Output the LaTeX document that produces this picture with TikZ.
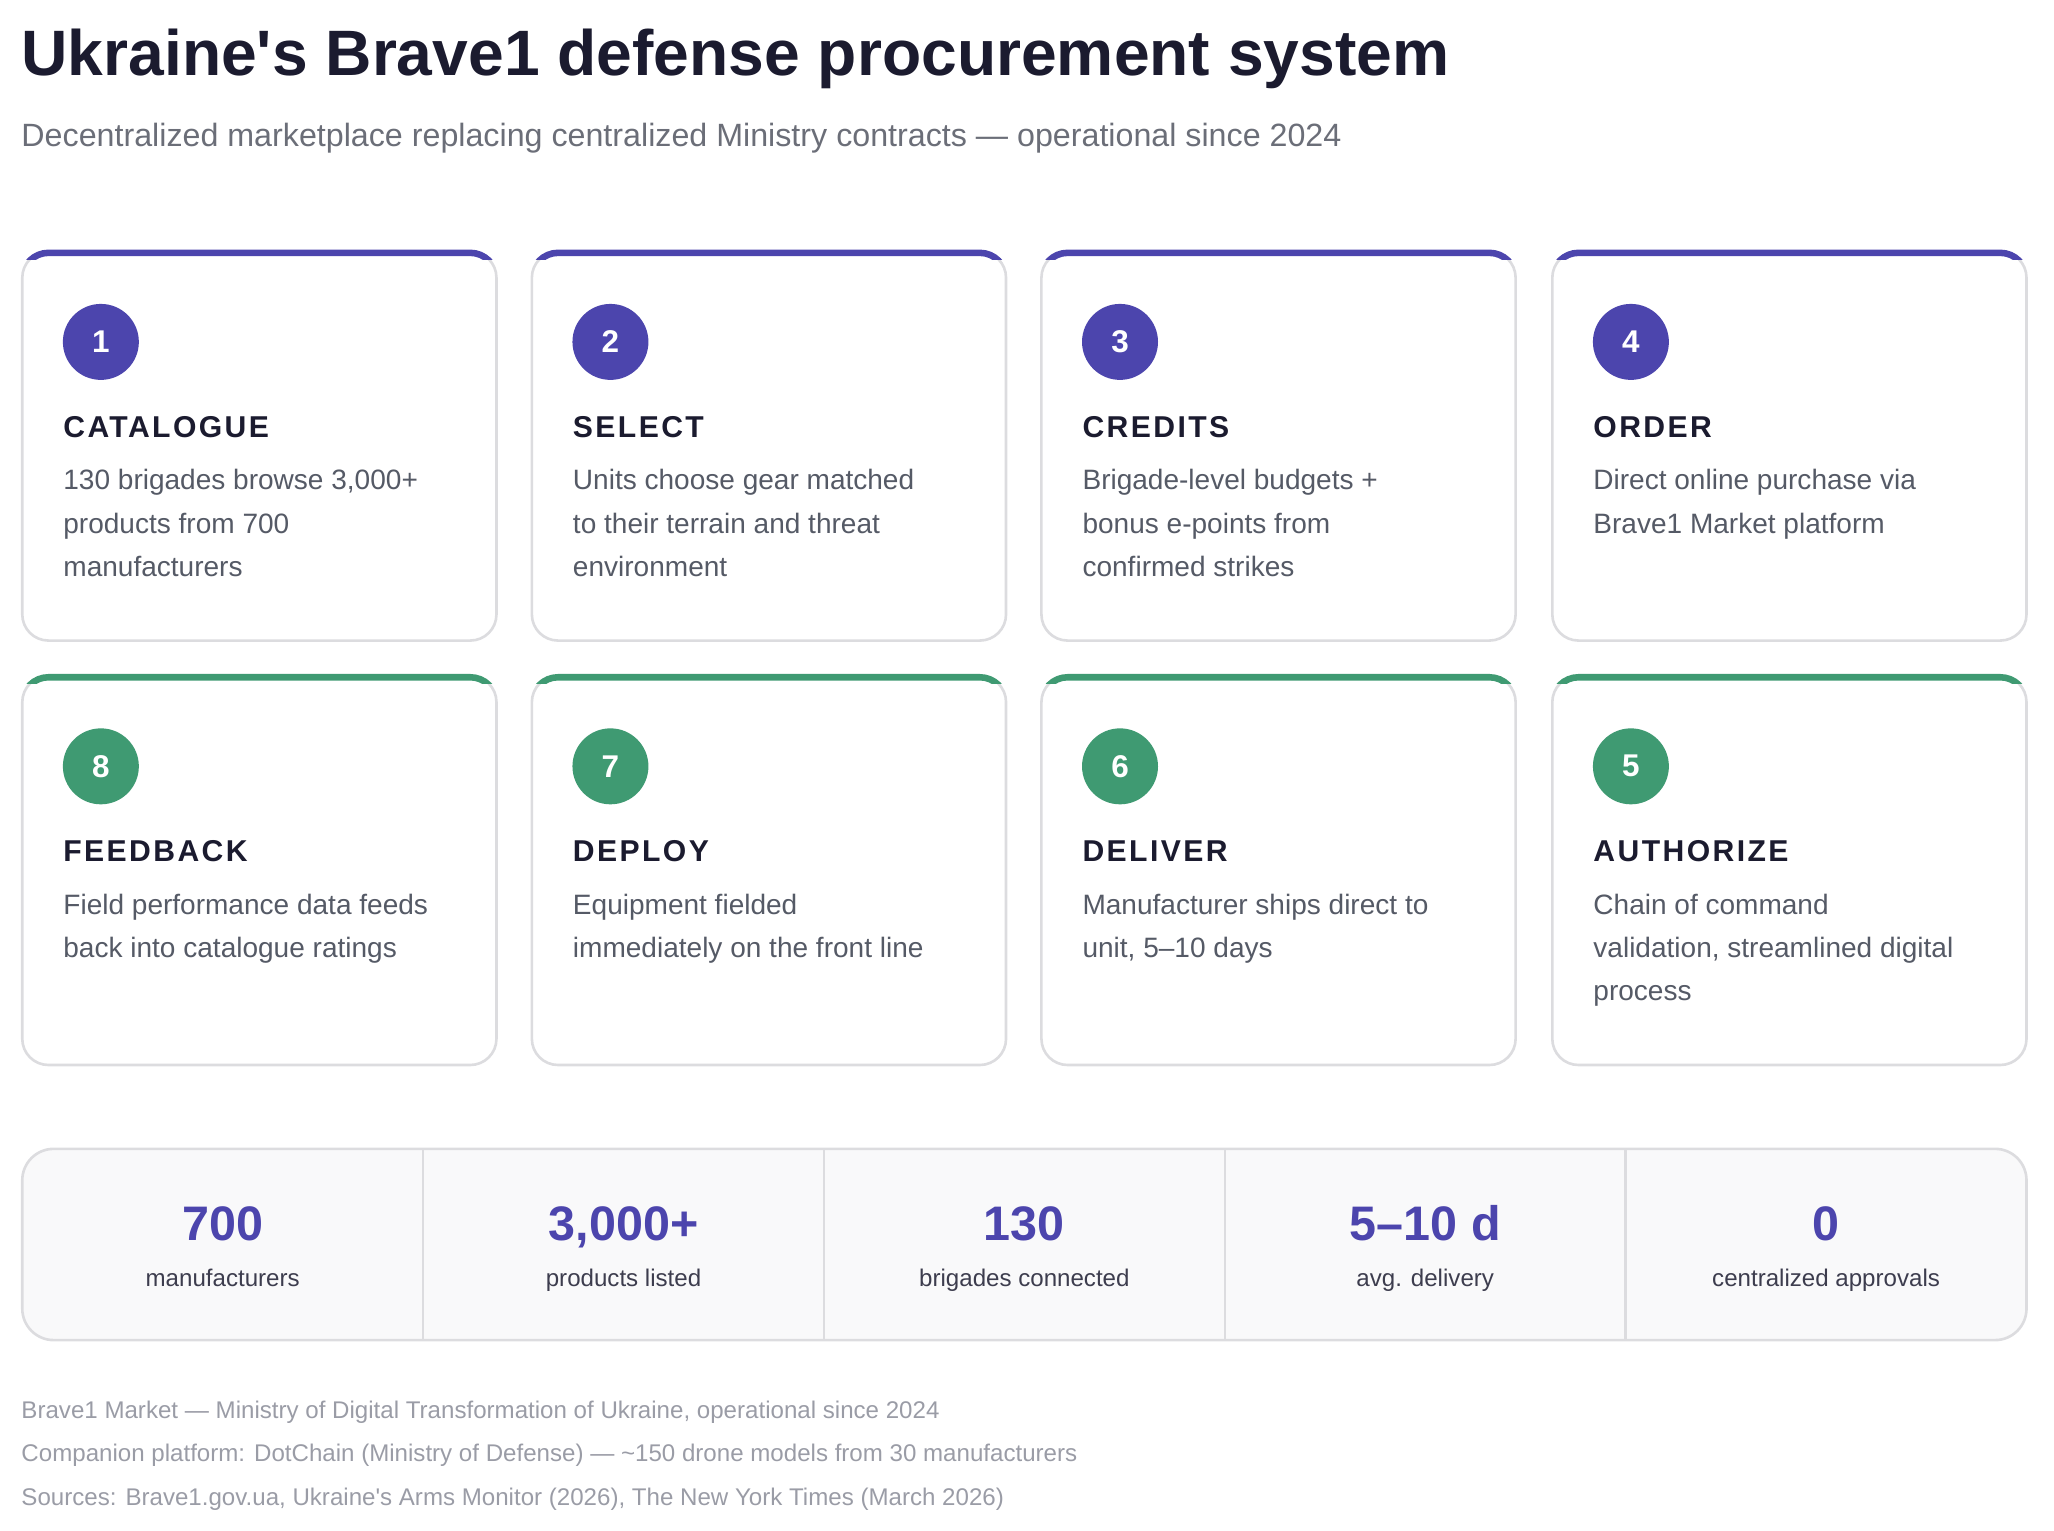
\documentclass[tikz,border=0pt]{standalone}
\usepackage{fontspec}
\setmainfont{Liberation Sans}
\newfontfamily\headfont[LetterSpace=8]{Liberation Sans}
\usetikzlibrary{positioning}
\definecolor{ink}{HTML}{1B1B2F}
\definecolor{subgray}{HTML}{6B6E78}
\definecolor{bodygray}{HTML}{555A66}
\definecolor{footgray}{HTML}{9A9CA6}
\definecolor{edge}{HTML}{DCDCDF}
\definecolor{purp}{HTML}{4C45AD}
\definecolor{grn}{HTML}{3F9A72}
\definecolor{statbg}{HTML}{F9F9FA}
\tikzset{
  card/.style={draw=edge, line width=1pt, rounded corners=10pt, fill=white},
  badge/.style={circle, minimum size=29pt, inner sep=0pt, text=white, font=\bfseries\fontsize{12}{14}\selectfont},
  head/.style={anchor=base west, inner sep=0pt, text=ink, font=\headfont\bfseries\fontsize{11.5}{14}\selectfont},
  desc/.style={anchor=north west, inner sep=0pt, text=bodygray, align=left, font=\fontsize{10.7}{16.5}\selectfont},
  statnum/.style={anchor=base, inner sep=0pt, text=purp, font=\bfseries\fontsize{18.5}{20}\selectfont},
  statlab/.style={anchor=base, inner sep=0pt, text=ink!85, font=\fontsize{9.2}{11}\selectfont},
  foot/.style={anchor=base west, inner sep=0pt, text=footgray, font=\fontsize{9.2}{11}\selectfont}
}
\begin{document}
\begin{tikzpicture}[x=0.5pt,y=-0.5pt]
\useasboundingbox (0,0) rectangle (1568,1168);
\node[anchor=base west, inner sep=0pt, text=ink, font=\bfseries\fontsize{24.5}{28}\selectfont] (title) at (16,58) {Ukraine\textquotesingle s Brave1 defense procurement system};
\node[anchor=base west, inner sep=0pt, text=subgray, font=\fontsize{12.3}{14}\selectfont] (subtitle) at (16,112) {Decentralized marketplace replacing centralized Ministry contracts — operational since 2024};

% cards
\foreach \x/\y/\c/\n/\h/\d in {
  17/192/purp/1/CATALOGUE/{130 brigades browse 3,000+\\products from 700\\manufacturers},
  406/192/purp/2/SELECT/{Units choose gear matched\\to their terrain and threat\\environment},
  795/192/purp/3/CREDITS/{Brigade-level budgets +\\bonus e-points from\\confirmed strikes},
  1185/192/purp/4/ORDER/{Direct online purchase via\\Brave1 Market platform},
  17/516/grn/8/FEEDBACK/{Field performance data feeds\\back into catalogue ratings},
  406/516/grn/7/DEPLOY/{Equipment fielded\\immediately on the front line},
  795/516/grn/6/DELIVER/{Manufacturer ships direct to\\unit, 5–10 days},
  1185/516/grn/5/AUTHORIZE/{Chain of command\\validation, streamlined digital\\process}} {
  \draw[card] (\x,\y) rectangle ++(362,297);
  \begin{scope}
    \clip (\x-5,\y-6) rectangle ++(372,12);
    \draw[\c, line width=2.5pt, rounded corners=10pt] (\x,\y+40) -- (\x,\y+1) -- (\x+362,\y+1) -- (\x+362,\y+40);
  \end{scope}
  \node[badge, fill=\c] (b\n) at (\x+60,\y+69) {\n};
  \node[head] (h\n) at (\x+31,\y+142) {\h};
  \node[desc] (d\n) at (\x+31,\y+166) {\d};
}

% stats
\draw[draw=edge, line width=1pt, fill=statbg, rounded corners=12pt] (17,877) rectangle (1547,1023);
\foreach \i in {323,629,935,1241} \draw[edge, line width=1pt] (\i,877) -- (\i,1023);
\foreach \cx/\v/\l [count=\k] in {170/700/manufacturers, 476/{3,000+}/products listed, 782/130/brigades connected, 1088/5–10 d/avg. delivery, 1394/0/centralized approvals} {
  \node[statnum] (s\k) at (\cx,947) {\v};
  \node[statlab] (l\k) at (\cx,982) {\l};
}

% footer
\node[foot] (f1) at (16,1083) {Brave1 Market — Ministry of Digital Transformation of Ukraine, operational since 2024};
\node[foot] (f2) at (16,1116) {Companion platform: DotChain (Ministry of Defense) — \textasciitilde150 drone models from 30 manufacturers};
\node[foot] (f3) at (16,1149) {Sources: Brave1.gov.ua, Ukraine\textquotesingle s Arms Monitor (2026), The New York Times (March 2026)};
\end{tikzpicture}
\end{document}
